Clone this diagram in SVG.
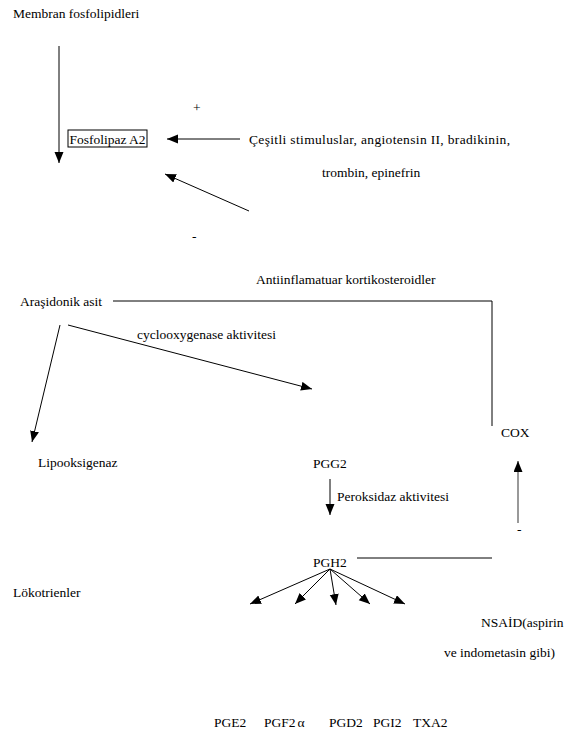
<svg xmlns="http://www.w3.org/2000/svg" width="569" height="731" viewBox="0 0 569 731">
<style>
text{font-family:"Liberation Serif","Times New Roman",serif;font-size:13.5px;fill:#000}
.c{stroke:#000;stroke-width:1;fill:none}
.g{stroke:#555;stroke-width:1.2;fill:none}
</style>
<defs>
<marker id="ah" markerUnits="userSpaceOnUse" markerWidth="12" markerHeight="10" refX="11" refY="4.5" orient="auto"><path d="M0,0 L11,4.5 L0,9 z" fill="#000"/></marker>
</defs>
<rect width="569" height="731" fill="#fff"/>
<g id="connectors">
<line class="c" x1="59" y1="46" x2="59" y2="163" marker-end="url(#ah)"/>
<line class="c" x1="240" y1="139" x2="167" y2="139" marker-end="url(#ah)"/>
<line class="c" x1="249" y1="211" x2="165" y2="174" marker-end="url(#ah)"/>
<polyline class="c" points="113,301 492,301 492,426"/>
<line class="c" x1="60" y1="325" x2="32" y2="442" marker-end="url(#ah)"/>
<line class="c" x1="68" y1="325" x2="312" y2="389" marker-end="url(#ah)"/>
<line class="c" x1="330" y1="479" x2="330" y2="515" marker-end="url(#ah)"/>
<line class="g" x1="518" y1="523" x2="518" y2="461" marker-end="url(#ah)"/>
<line class="c" x1="357" y1="558" x2="492" y2="558"/>
<line class="c" x1="330" y1="569" x2="250" y2="604" marker-end="url(#ah)"/>
<line class="c" x1="330" y1="569" x2="295" y2="604" marker-end="url(#ah)"/>
<line class="c" x1="330" y1="569" x2="336" y2="605" marker-end="url(#ah)"/>
<line class="c" x1="330" y1="569" x2="370" y2="604" marker-end="url(#ah)"/>
<line class="c" x1="330" y1="569" x2="405" y2="604" marker-end="url(#ah)"/>
</g>
<g id="membran"><text x="13" y="18">Membran fosfolipidleri</text></g>
<g id="fosfolipaz"><rect x="68" y="130" width="79" height="17" fill="none" stroke="#000" stroke-width="1"/><text x="69.5" y="144">Fosfolipaz A2</text></g>
<g id="plus"><text x="193" y="112">+</text></g>
<g id="stimulus"><text x="249" y="144" textLength="261" lengthAdjust="spacing">Çeşitli stimuluslar, angiotensin II, bradikinin,</text><text x="322" y="177">trombin, epinefrin</text></g>
<g id="minus1"><text x="192" y="241">-</text></g>
<g id="kortiko"><text x="256" y="284">Antiinflamatuar kortikosteroidler</text></g>
<g id="arasidonik"><text x="20" y="306">Araşidonik asit</text></g>
<g id="cyclo"><text x="137" y="339">cyclooxygenase aktivitesi</text></g>
<g id="cox"><text x="501" y="437">COX</text></g>
<g id="lipo"><text x="38" y="467">Lipooksigenaz</text></g>
<g id="pgg2"><text x="313" y="468">PGG2</text></g>
<g id="perok"><text x="337" y="501">Peroksidaz aktivitesi</text></g>
<g id="minus2"><text x="517" y="534">-</text></g>
<g id="pgh2"><text x="313" y="567">PGH2</text></g>
<g id="loko"><text x="13" y="597">Lökotrienler</text></g>
<g id="nsaid"><text x="481" y="627">NSAİD(aspirin</text><text x="444" y="657">ve indometasin gibi)</text></g>
<g id="pge2"><text x="214" y="727">PGE2</text></g>
<g id="pgf2a"><text x="264" y="727">PGF2<tspan dx="2">α</tspan></text></g>
<g id="pgd2"><text x="329" y="727">PGD2</text></g>
<g id="pgi2"><text x="373" y="727">PGI2</text></g>
<g id="txa2"><text x="413" y="727">TXA2</text></g>
</svg>
